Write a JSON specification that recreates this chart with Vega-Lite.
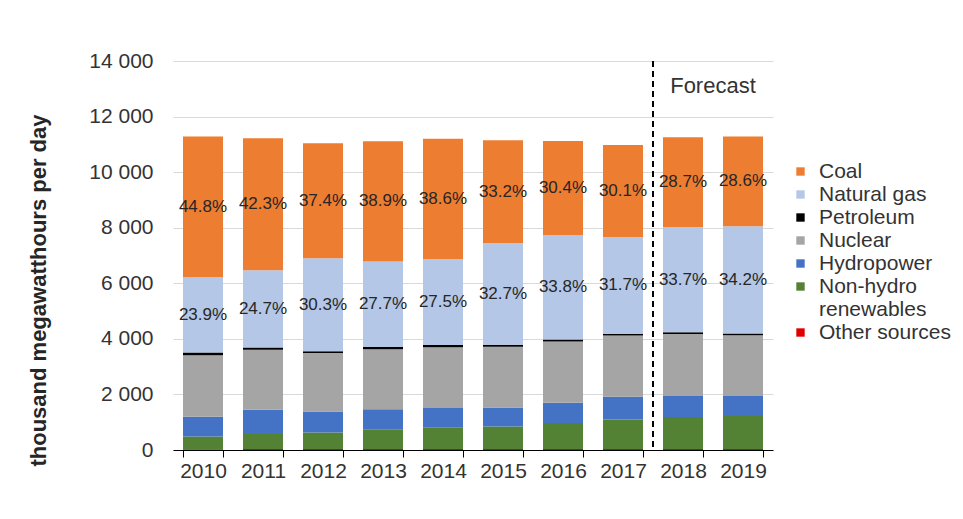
{
  "$schema": "https://vega.github.io/schema/vega-lite/v6.json",
  "width": 600,
  "height": 389,
  "autosize": {"type": "none"},
  "padding": {"left": 173, "top": 61, "right": 190, "bottom": 69},
  "background": "white",
  "config": {"view": {"stroke": null}, "font": "Liberation Sans"},
  "datasets": {
    "gen": [
      {"year": "2010", "source": "Other sources", "rank": 1, "value": 30, "label": ""},
      {"year": "2010", "source": "Non-hydro renewables", "rank": 2, "value": 458, "label": ""},
      {"year": "2010", "source": "Hydropower", "rank": 3, "value": 712, "label": ""},
      {"year": "2010", "source": "Nuclear", "rank": 4, "value": 2211, "label": ""},
      {"year": "2010", "source": "Petroleum", "rank": 5, "value": 101, "label": ""},
      {"year": "2010", "source": "Natural gas", "rank": 6, "value": 2707, "label": "23.9%"},
      {"year": "2010", "source": "Coal", "rank": 7, "value": 5060, "label": "44.8%"},
      {"year": "2011", "source": "Other sources", "rank": 1, "value": 40, "label": ""},
      {"year": "2011", "source": "Non-hydro renewables", "rank": 2, "value": 532, "label": ""},
      {"year": "2011", "source": "Hydropower", "rank": 3, "value": 874, "label": ""},
      {"year": "2011", "source": "Nuclear", "rank": 4, "value": 2164, "label": ""},
      {"year": "2011", "source": "Petroleum", "rank": 5, "value": 82, "label": ""},
      {"year": "2011", "source": "Natural gas", "rank": 6, "value": 2778, "label": "24.7%"},
      {"year": "2011", "source": "Coal", "rank": 7, "value": 4748, "label": "42.3%"},
      {"year": "2012", "source": "Other sources", "rank": 1, "value": 38, "label": ""},
      {"year": "2012", "source": "Non-hydro renewables", "rank": 2, "value": 596, "label": ""},
      {"year": "2012", "source": "Hydropower", "rank": 3, "value": 754, "label": ""},
      {"year": "2012", "source": "Nuclear", "rank": 4, "value": 2101, "label": ""},
      {"year": "2012", "source": "Petroleum", "rank": 5, "value": 63, "label": ""},
      {"year": "2012", "source": "Natural gas", "rank": 6, "value": 3350, "label": "30.3%"},
      {"year": "2012", "source": "Coal", "rank": 7, "value": 4137, "label": "37.4%"},
      {"year": "2013", "source": "Other sources", "rank": 1, "value": 38, "label": ""},
      {"year": "2013", "source": "Non-hydro renewables", "rank": 2, "value": 693, "label": ""},
      {"year": "2013", "source": "Hydropower", "rank": 3, "value": 737, "label": ""},
      {"year": "2013", "source": "Nuclear", "rank": 4, "value": 2162, "label": ""},
      {"year": "2013", "source": "Petroleum", "rank": 5, "value": 74, "label": ""},
      {"year": "2013", "source": "Natural gas", "rank": 6, "value": 3080, "label": "27.7%"},
      {"year": "2013", "source": "Coal", "rank": 7, "value": 4332, "label": "38.9%"},
      {"year": "2014", "source": "Other sources", "rank": 1, "value": 36, "label": ""},
      {"year": "2014", "source": "Non-hydro renewables", "rank": 2, "value": 767, "label": ""},
      {"year": "2014", "source": "Hydropower", "rank": 3, "value": 710, "label": ""},
      {"year": "2014", "source": "Nuclear", "rank": 4, "value": 2184, "label": ""},
      {"year": "2014", "source": "Petroleum", "rank": 5, "value": 82, "label": ""},
      {"year": "2014", "source": "Natural gas", "rank": 6, "value": 3088, "label": "27.5%"},
      {"year": "2014", "source": "Coal", "rank": 7, "value": 4334, "label": "38.6%"},
      {"year": "2015", "source": "Other sources", "rank": 1, "value": 38, "label": ""},
      {"year": "2015", "source": "Non-hydro renewables", "rank": 2, "value": 808, "label": ""},
      {"year": "2015", "source": "Hydropower", "rank": 3, "value": 682, "label": ""},
      {"year": "2015", "source": "Nuclear", "rank": 4, "value": 2184, "label": ""},
      {"year": "2015", "source": "Petroleum", "rank": 5, "value": 77, "label": ""},
      {"year": "2015", "source": "Natural gas", "rank": 6, "value": 3658, "label": "32.7%"},
      {"year": "2015", "source": "Coal", "rank": 7, "value": 3705, "label": "33.2%"},
      {"year": "2016", "source": "Other sources", "rank": 1, "value": 36, "label": ""},
      {"year": "2016", "source": "Non-hydro renewables", "rank": 2, "value": 937, "label": ""},
      {"year": "2016", "source": "Hydropower", "rank": 3, "value": 732, "label": ""},
      {"year": "2016", "source": "Nuclear", "rank": 4, "value": 2202, "label": ""},
      {"year": "2016", "source": "Petroleum", "rank": 5, "value": 66, "label": ""},
      {"year": "2016", "source": "Natural gas", "rank": 6, "value": 3765, "label": "33.8%"},
      {"year": "2016", "source": "Coal", "rank": 7, "value": 3385, "label": "30.4%"},
      {"year": "2017", "source": "Other sources", "rank": 1, "value": 36, "label": ""},
      {"year": "2017", "source": "Non-hydro renewables", "rank": 2, "value": 1060, "label": ""},
      {"year": "2017", "source": "Hydropower", "rank": 3, "value": 822, "label": ""},
      {"year": "2017", "source": "Nuclear", "rank": 4, "value": 2205, "label": ""},
      {"year": "2017", "source": "Petroleum", "rank": 5, "value": 58, "label": ""},
      {"year": "2017", "source": "Natural gas", "rank": 6, "value": 3488, "label": "31.7%"},
      {"year": "2017", "source": "Coal", "rank": 7, "value": 3304, "label": "30.1%"},
      {"year": "2018", "source": "Other sources", "rank": 1, "value": 37, "label": ""},
      {"year": "2018", "source": "Non-hydro renewables", "rank": 2, "value": 1150, "label": ""},
      {"year": "2018", "source": "Hydropower", "rank": 3, "value": 755, "label": ""},
      {"year": "2018", "source": "Nuclear", "rank": 4, "value": 2237, "label": ""},
      {"year": "2018", "source": "Petroleum", "rank": 5, "value": 55, "label": ""},
      {"year": "2018", "source": "Natural gas", "rank": 6, "value": 3794, "label": "33.7%"},
      {"year": "2018", "source": "Coal", "rank": 7, "value": 3231, "label": "28.7%"},
      {"year": "2019", "source": "Other sources", "rank": 1, "value": 38, "label": ""},
      {"year": "2019", "source": "Non-hydro renewables", "rank": 2, "value": 1185, "label": ""},
      {"year": "2019", "source": "Hydropower", "rank": 3, "value": 720, "label": ""},
      {"year": "2019", "source": "Nuclear", "rank": 4, "value": 2189, "label": ""},
      {"year": "2019", "source": "Petroleum", "rank": 5, "value": 65, "label": ""},
      {"year": "2019", "source": "Natural gas", "rank": 6, "value": 3858, "label": "34.2%"},
      {"year": "2019", "source": "Coal", "rank": 7, "value": 3226, "label": "28.6%"}
    ]
  },
  "layer": [
    {
      "data": {"name": "gen"},
      "mark": {"type": "bar"},
      "encoding": {
        "x": {
          "field": "year",
          "type": "nominal",
          "scale": {"paddingInner": 0.3333, "paddingOuter": 0.1667},
          "axis": {
            "title": null,
            "labelAngle": 0,
            "labelFontSize": 21,
            "labelColor": "#333333",
            "labelPadding": 3,
            "tickBand": "extent",
            "tickColor": "#000000",
            "tickSize": 7,
            "domainColor": "#000000",
            "grid": false
          }
        },
        "y": {
          "field": "value",
          "type": "quantitative",
          "stack": "zero",
          "scale": {"domain": [0, 14000], "nice": false},
          "axis": {
            "title": "thousand megawatthours per day",
            "titleFontSize": 22,
            "titleFontWeight": "bold",
            "titleColor": "#262626",
            "titleAngle": 270,
            "titleX": -135,
            "titleY": 229,
            "titleAlign": "center",
            "titleBaseline": "middle",
            "values": [0, 2000, 4000, 6000, 8000, 10000, 12000, 14000],
            "labelExpr": "replace(format(datum.value, ','), ',', ' ')",
            "labelFontSize": 21,
            "labelColor": "#333333",
            "labelPadding": 20,
            "ticks": false,
            "domain": false,
            "grid": true,
            "gridColor": "#d9d9d9"
          }
        },
        "order": {"field": "rank", "type": "quantitative", "sort": "ascending"},
        "color": {
          "field": "source",
          "type": "nominal",
          "sort": ["Coal", "Natural gas", "Petroleum", "Nuclear", "Hydropower", "Non-hydro renewables", "Other sources"],
          "scale": {
            "domain": ["Coal", "Natural gas", "Petroleum", "Nuclear", "Hydropower", "Non-hydro renewables", "Other sources"],
            "range": ["#ED7D31", "#B4C7E7", "#000000", "#A5A5A5", "#4472C4", "#548235", "#E00000"]
          },
          "legend": {
            "title": null,
            "orient": "none",
            "legendX": 617,
            "legendY": 100,
            "symbolType": "square",
            "symbolSize": 70,
            "symbolStrokeWidth": 0,
            "labelFontSize": 21,
            "labelColor": "#333333",
            "labelOffset": 8,
            "labelLimit": 220,
            "rowPadding": 1,
            "labelExpr": "datum.label == 'Non-hydro renewables' ? ['Non-hydro', 'renewables'] : datum.label"
          }
        }
      }
    },
    {
      "data": {"name": "gen"},
      "mark": {"type": "text", "fontSize": 17, "baseline": "middle", "align": "center", "color": "#262626"},
      "encoding": {
        "x": {"field": "year", "type": "nominal"},
        "y": {"field": "value", "type": "quantitative", "stack": "zero", "bandPosition": 0.5},
        "order": {"field": "rank", "type": "quantitative", "sort": "ascending"},
        "detail": {"field": "source", "type": "nominal"},
        "text": {"field": "label", "type": "nominal"}
      }
    },
    {
      "data": {"values": [{"boundary": "2018"}]},
      "mark": {"type": "rule", "strokeDash": [6, 4], "strokeWidth": 2, "color": "#000000"},
      "encoding": {
        "x": {"field": "boundary", "type": "nominal", "bandPosition": -0.25}
      }
    },
    {
      "data": {"values": [{"note": "Forecast"}]},
      "mark": {"type": "text", "fontSize": 22, "color": "#333333", "align": "center", "baseline": "middle"},
      "encoding": {
        "x": {"datum": "2019", "type": "nominal", "bandPosition": -0.25},
        "y": {"datum": 13100, "type": "quantitative"},
        "text": {"field": "note", "type": "nominal"}
      }
    }
  ]
}
